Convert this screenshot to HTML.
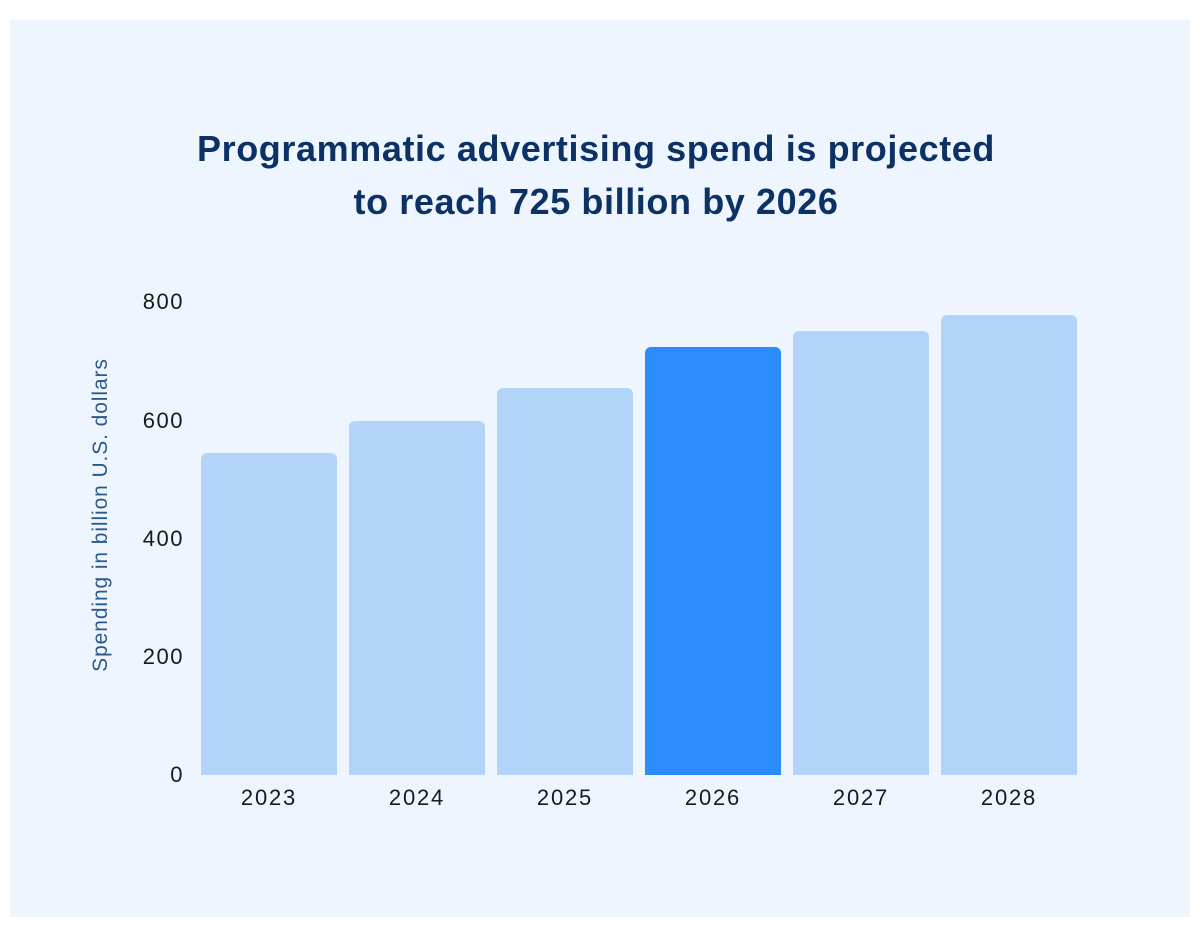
<!DOCTYPE html>
<html><head><meta charset="utf-8"><style>
body{margin:0;width:1200px;height:928px;background:#fff;position:relative;font-family:"Liberation Sans",sans-serif;overflow:hidden}
.panel{position:absolute;left:10px;top:20px;width:1180px;height:897px;background:#eef5fe}
.t{position:absolute;left:0;width:1192px;text-align:center;font-weight:bold;font-size:36px;letter-spacing:0.6px;color:#0c3265}
.bar{position:absolute;width:136px;background:#b2d4f8;border-radius:6px 6px 0 0}
.yl{position:absolute;width:80px;text-align:right;font-size:22px;letter-spacing:1.5px;color:#1a1a1a;left:104px}
.xl{position:absolute;width:136px;text-align:center;font-size:22px;letter-spacing:1.8px;color:#1a1a1a;top:785px}
</style></head><body>
<div class="panel"></div>
<div class="t" style="top:128px">Programmatic advertising spend is projected</div>
<div class="t" style="top:181px">to reach 725 billion by 2026</div>
<div class="yl" style="top:289px">800</div>
<div class="yl" style="top:408px">600</div>
<div class="yl" style="top:526px">400</div>
<div class="yl" style="top:644px">200</div>
<div class="yl" style="top:762px">0</div>
<div style="position:absolute;left:101px;top:515px;transform:translate(-50%,-50%) rotate(-90deg);white-space:nowrap;font-size:21px;letter-spacing:0.9px;color:#2a5a8c">Spending in billion U.S. dollars</div>
<div class="bar" style="left:201px;top:453px;height:322px"></div>
<div class="bar" style="left:349px;top:421px;height:354px"></div>
<div class="bar" style="left:497px;top:388px;height:387px"></div>
<div class="bar" style="left:645px;top:347px;height:428px;background:#2d8cfc"></div>
<div class="bar" style="left:793px;top:331px;height:444px"></div>
<div class="bar" style="left:941px;top:315px;height:460px"></div>
<div class="xl" style="left:201px">2023</div>
<div class="xl" style="left:349px">2024</div>
<div class="xl" style="left:497px">2025</div>
<div class="xl" style="left:645px">2026</div>
<div class="xl" style="left:793px">2027</div>
<div class="xl" style="left:941px">2028</div>
</body></html>
